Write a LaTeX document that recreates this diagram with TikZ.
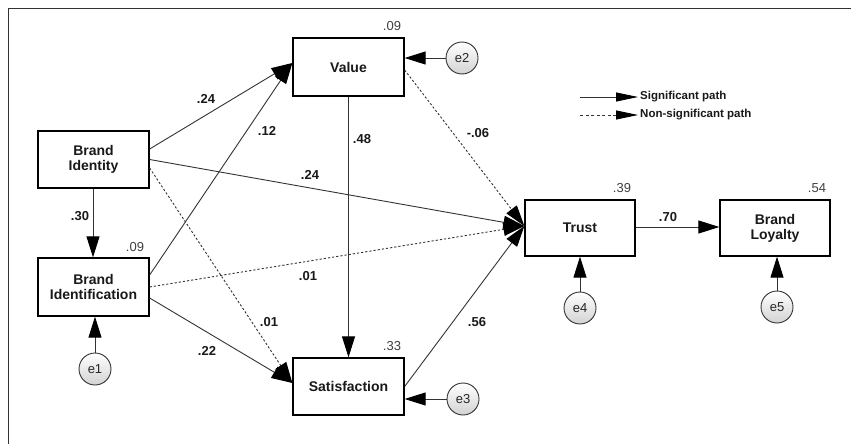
\documentclass[tikz,border=0pt]{standalone}
\usepackage{fontspec}
\setmainfont{Liberation Sans}
\usetikzlibrary{arrows.meta,shapes.geometric}
\definecolor{ln}{HTML}{333333}
\tikzset{
  boxnode/.style={draw=black, line width=1.3pt, rectangle, minimum width=111pt, minimum height=57pt, inner sep=0pt, align=center, font=\fontsize{14}{15}\selectfont\bfseries, text=black!90},
  errnode/.style={circle, draw=ln, line width=0.9pt, minimum size=32pt, inner sep=0pt, top color=white, bottom color=gray!35, font=\fontsize{13}{15}\selectfont, text=black!85},
  coef/.style={font=\fontsize{13}{14}\selectfont\bfseries, text=black!90, inner sep=0pt},
  rsq/.style={font=\fontsize{13}{14}\selectfont, text=black!75, inner sep=0pt},
  legtext/.style={font=\fontsize{11.5}{12}\selectfont\bfseries, text=black!90, inner sep=2pt, anchor=west},
  sig/.style={draw=ln, line width=0.9pt, -{Triangle[length=21pt,width=13pt,color=black]}},
  nsig/.style={sig, dash pattern=on 2.2pt off 2pt},
  legsig/.style={draw=ln, line width=0.9pt, -{Triangle[length=22pt,width=9pt,color=black]}},
  legnsig/.style={legsig, dash pattern=on 3pt off 2.5pt}
}
\begin{document}
\begin{tikzpicture}[x=1pt,y=-1pt]
\useasboundingbox (0,0) rectangle (851,444);
\fill[white] (0,0) rectangle (851,444);
% frame (cropped on right and bottom)
\draw[line width=1.6pt, color=ln] (8.5,444) -- (8.5,8.5) -- (851,8.5);

% boxes
\node[boxnode] (BI) at (93.5,159.5) {Brand\\Identity};
\node[boxnode, minimum height=58pt] (BID) at (93.5,287) {Brand\\Identification};
\node[boxnode, minimum height=58pt] (VAL) at (348.5,67) {Value};
\node[boxnode] (SAT) at (348.5,386.5) {Satisfaction};
\node[boxnode, minimum width=110pt, minimum height=56pt] (TR) at (580,228) {Trust};
\node[boxnode, minimum width=110pt, minimum height=56pt] (BL) at (775,228) {Brand\\Loyalty};

% error terms
\node[errnode] (e1) at (95,369) {e1};
\node[errnode] (e2) at (462,58) {e2};
\node[errnode] (e3) at (463,399) {e3};
\node[errnode] (e4) at (580,308) {e4};
\node[errnode] (e5) at (777,307) {e5};

% paths
\draw[sig] ([yshift=10.5pt]BI.east) -- ([yshift=4pt]VAL.west);
\draw[sig] ([yshift=12pt]BID.east) -- ([yshift=4pt]VAL.west);
\draw[sig] (BI.east) -- ([yshift=2pt]TR.west);
\draw[nsig] ([yshift=-8.5pt]BI.east) -- ([yshift=3.5pt]SAT.west);
\draw[nsig] (BID.east) -- ([yshift=2pt]TR.west);
\draw[sig] ([yshift=-11pt]BID.east) -- ([yshift=3.5pt]SAT.west);
\draw[sig] (VAL.south) -- (SAT.north);
\draw[nsig] ([yshift=-3pt]VAL.east) -- ([yshift=2pt]TR.west);
\draw[sig] (SAT.east) -- ([yshift=2pt]TR.west);
\draw[sig] ([yshift=1pt]TR.east) -- ([yshift=1pt]BL.west);
\draw[sig] ([xshift=-0.5pt]BI.south) -- ([xshift=-0.5pt]BID.north);
\draw[sig] (e1.north) -- ([xshift=1.5pt]BID.south);
\draw[sig] (e2.west) -- ([yshift=9pt]VAL.east);
\draw[sig] (e3.west) -- ([yshift=-12.5pt]SAT.east);
\draw[sig] (e4.north) -- (TR.south);
\draw[sig] (e5.north) -- ([xshift=2pt]BL.south);

% coefficients
\node[coef] (c1) at (206,99) {.24};
\node[coef] (c2) at (267,131) {.12};
\node[coef] (c3) at (362,139) {.48};
\node[coef] (c4) at (310,175) {.24};
\node[coef] (c5) at (80,216) {.30};
\node[coef] (c6) at (478,133) {-.06};
\node[coef] (c7) at (308,276) {.01};
\node[coef] (c8) at (269,322) {.01};
\node[coef] (c9) at (207,351) {.22};
\node[coef] (c10) at (477,322) {.56};
\node[coef] (c11) at (668,217) {.70};

% R squared
\node[rsq] (r1) at (392,26) {.09};
\node[rsq] (r2) at (135,247) {.09};
\node[rsq] (r3) at (392,346) {.33};
\node[rsq] (r4) at (622,188) {.39};
\node[rsq] (r5) at (817,188) {.54};

% legend
\coordinate (la) at (580,97);
\coordinate (lb) at (580,115);
\node[legtext] (lt1) at (638,97) {Significant path};
\node[legtext] (lt2) at (638,115) {Non-significant path};
\draw[legsig] (la) -- (lt1.west);
\draw[legnsig] (lb) -- (lt2.west);
\end{tikzpicture}
\end{document}
